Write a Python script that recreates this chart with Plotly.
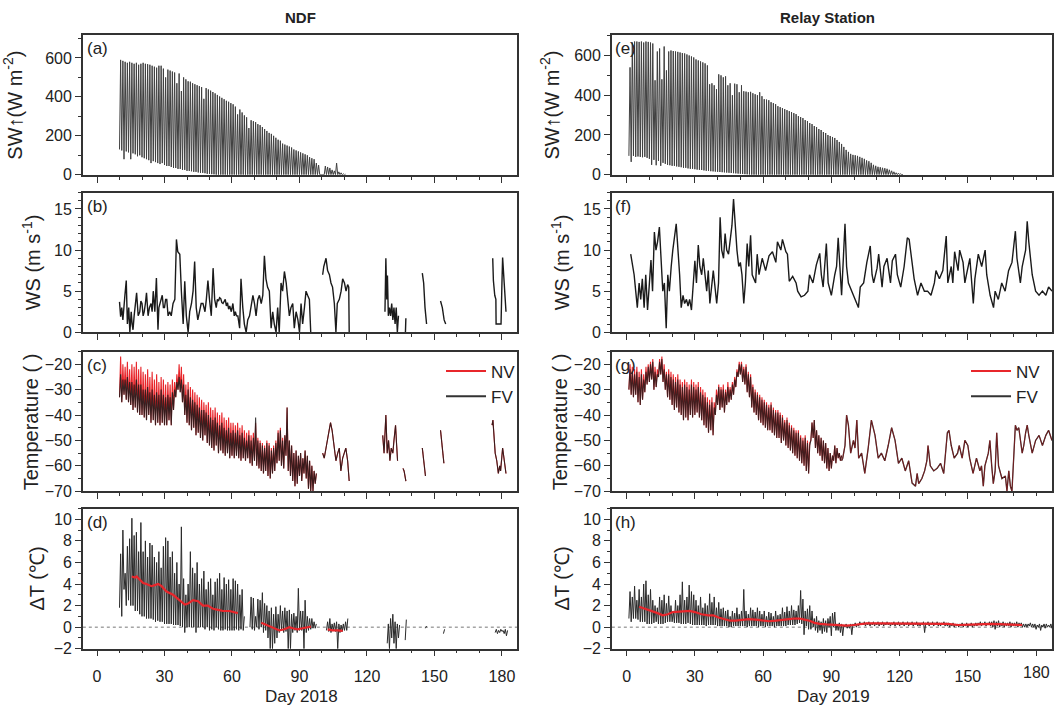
import plotly.graph_objects as go

# ---------------------------------------------------------------- data
# (a) NDF upward shortwave: daily max / min, days 10..110
ndf_sw_day0 = 10
ndf_sw_max = [590, 585, 580, 575, 580, 575, 570, 575, 565, 570,
              575, 570, 568, 565, 560, 555, 550, 560, 560, 545,
              500, 540, 535, 530, 525, 470, 520, 430, 500, 490,
              480, 478, 470, 465, 460, 455, 450, 390, 445, 438,
              432, 425, 418, 410, 402, 395, 388, 380, 375, 368,
              362, 350, 310, 335, 320, 305, 295, 240, 280, 275,
              270, 260, 255, 245, 235, 225, 215, 210, 200, 190,
              180, 175, 160, 155, 150, 145, 140, 130, 125, 120,
              115, 110, 105, 100, 90, 85, 80, 60, 50, 0,
              0, 45, 40, 35, 25, 20, 60, 15, 10, 5, 3]
ndf_sw_min = [130, 125, 80, 120, 115, 80, 110, 105, 95, 100,
              90, 85, 80, 75, 60, 70, 65, 60, 55, 60,
              50, 45, 45, 40, 35, 35, 30, 30, 25, 25,
              20, 20, 18, 15, 15, 12, 10, 10, 8, 5,
              5, 3, 2, 0, 0, 0, 0, 0, 0, 0,
              0, 0, 0, 0, 0, 0, 0, 0, 0, 0,
              0, 0, 0, 0, 0, 0, 0, 0, 0, 0,
              0, 0, 0, 0, 0, 0, 0, 0, 0, 0,
              0, 0, 0, 0, 0, 0, 0, 0, 0, 0,
              0, 0, 0, 0, 0, 0, 0, 0, 0, 0, 0]

# (e) Relay Station upward shortwave: daily max / min, days 1..121
relay_sw_day0 = 1
relay_sw_max = [540, 665, 670, 670, 668, 670, 665, 670, 668, 665,
                660, 475, 620, 635, 480, 645, 525, 620, 625, 622,
                620, 618, 615, 612, 610, 605, 600, 595, 590, 580,
                575, 570, 565, 560, 550, 455, 460, 450, 430, 505,
                500, 490, 495, 450, 460, 400, 458, 455, 415, 450,
                420, 418, 415, 417, 410, 405, 400, 415, 395, 380,
                378, 375, 365, 360, 355, 345, 340, 335, 330, 325,
                320, 315, 310, 305, 295, 290, 285, 275, 270, 260,
                255, 245, 240, 230, 225, 215, 210, 200, 195, 190,
                185, 175, 165, 155, 140, 125, 115, 105, 100, 98,
                95, 90, 85, 80, 72, 68, 60, 50, 45, 40,
                38, 35, 33, 30, 25, 20, 15, 10, 8, 5, 2]
relay_sw_min = [95, 65, 95, 90, 92, 90, 88, 90, 85, 80,
                50, 75, 48, 70, 45, 60, 55, 50, 48, 45,
                45, 42, 40, 38, 35, 35, 32, 30, 30, 28,
                26, 25, 24, 22, 20, 20, 18, 17, 16, 15,
                14, 13, 12, 11, 10, 9, 8, 7, 6, 5,
                4, 3, 2, 1, 0, 0, 0, 0, 0, 0,
                0, 0, 0, 0, 0, 0, 0, 0, 0, 0,
                0, 0, 0, 0, 0, 0, 0, 0, 0, 0,
                0, 0, 0, 0, 0, 0, 0, 0, 0, 0,
                0, 0, 0, 0, 0, 0, 0, 0, 0, 0,
                0, 0, 0, 0, 0, 0, 0, 0, 0, 0,
                0, 0, 0, 0, 0, 0, 0, 0, 0, 0, 0]

# (b) NDF wind speed (None = gap)
ndf_ws_day = [10, 10.5, 11, 11.5, 12.4, 13, 13.5, 14.1, 14.6, 15.2, 15.6, 16, 16.5, 17, 17.6, 18.3, 19, 19.5, 20,
              20.5, 21, 21.5, 22, 22.7, 23.3, 24, 24.5, 25, 25.7, 26.4, 27.1, 27.5, 28.1, 29, 29.5, 30, 30.5, 31,
              31.6, 32.3, 33, 33.8, 34.6, 35.3, 35.9, 36.8, 37.5, 38.3, 39, 39.7, 40.5, 41.2, 42, 42.7, 43.4,
              44.1, 44.8, 45.6, 46.3, 47.1, 48, 48.6, 49.3, 50, 50.8, 51.6, 52.3, 53, 53.5, 54, 54.5, 55, 55.5,
              56, 56.5, 57, 57.5, 58, 58.5, 59, 59.7, 60.4, 61, 61.5, 62, 62.6, 63.4, 64, 64.8, 65.5, 66.3, 67,
              67.8, 68.5, 69.3, 70, 70.7, 71.5, 72.2, 73, 73.7, 74.4, 75.1, 75.8, 76.6, 77.4, 78.1, 78.8, 79.6,
              80.3, 81, 81.8, 82.5, 83.3, 84.1, 84.8, 85.5, 86.2, 87, 87.7, 88.5, 89.3, 90, 90.7, 91.4, 92.2,
              92.9, 93.6, 94.4, 95,
              None,
              100.3, 100.8, 101.8, 102.5, 103.3, 104, 104.7, 105.5, 106.2, 106.8, 107.7, 108.5, 109.2, 110,
              110.7, 111.4, 111.9, 112.1,
              None,
              128, 128.4, 128.8, 129.1, 129.5, 130, 130.5, 131, 131.5, 132, 132.5, 133, 133.5, 134,
              None, 137.1, 137.3,
              None, 144.6, 145.2, 145.8, 146.5,
              None, 152.7, 153.5, 154.3, 155,
              None, 175.9, 176.2, 176.8, 177.3, 177.4, 179.6, 180.0, 180.3, 181, 181.8]
ndf_ws = [3.7, 1.9, 3.0, 1.5, 4.5, 6.3, 1.0, 3.0, 0.0, 2.5, 1.0, 0.3, 2.0, 3.0, 4.8, 2.0, 2.5, 3.8, 3.5,
          2.0, 2.5, 3.5, 4.8, 2.0, 3.0, 3.5, 2.5, 5.0, 2.5, 6.6, 0.3, 3.0, 3.5, 4.5, 3.0, 3.0, 4.0, 4.0,
          2.0, 2.5, 2.0, 3.5, 4.0, 11.3, 9.8, 9.5, 5.0, 1.0, 6.2, 2.0, 0.0, 2.5, 3.5, 5.0, 8.6,
          3.0, 1.5, 2.5, 3.5, 3.5, 2.5, 4.0, 6.3, 4.0, 2.0, 7.8, 4.0, 3.0, 4.0, 3.8, 4.2, 4.1, 3.6,
          3.5, 3.8, 4.0, 3.2, 3.6, 2.8, 3.2, 2.5, 3.5, 2.0, 2.5, 2.0, 2.0, 0.5, 6.5, 3.0, 1.0, 0.0, 1.5,
          2.0, 3.0, 4.5, 3.5, 2.0, 4.0, 4.5, 3.5, 4.5, 9.3, 6.5, 5.5, 5.0, 0.5, 2.5, 1.0, 0.0,
          3.0, 0.0, 6.0, 5.0, 7.4, 6.0, 4.0, 2.0, 3.0, 3.5, 0.5, 2.5, 1.5, 0.0, 3.5, 1.0, 3.0,
          5.0, 4.5, 4.0, 0.0,
          None,
          7.0, 8.0, 9.0, 7.5, 7.0, 6.0, 5.5, 3.5, 0.0, 3.5, 4.0, 5.0, 6.5, 6.0,
          5.0, 5.8, 5.5, 0.0,
          None,
          2.5, 9.0, 4.0, 6.9, 2.0, 3.0, 2.0, 3.5, 1.5, 3.0, 1.0, 3.0, 0.0, 2.0,
          None, 0.0, 1.7,
          None, 7.2, 6.0, 3.0, 1.0,
          None, 3.8, 3.0, 1.5, 1.0,
          None, 9.0, 6.3, 4.5, 4.0, 1.0, 1.0, 6.0, 9.1, 6.0, 2.5]

# (f) Relay Station wind speed
relay_ws_day = [1.8, 3.3, 4.0, 4.7, 5.5, 6.2, 6.9, 7.7, 8.4, 9.2, 9.9, 10.7, 11.4, 12.2, 12.9, 13.6, 14.4, 15.1,
                15.9, 16.6, 17.4, 18.1, 18.8, 19.6, 20.3, 21.8, 22.6, 23.3, 24.0, 24.8, 25.5, 26.3, 27.0, 27.7,
                28.5, 30.0, 30.7, 31.5, 32.2, 33.0, 33.7, 35.2, 35.9, 36.6, 38.1, 38.9, 39.6, 40.4, 41.1, 41.8,
                42.6, 43.3, 44.0, 44.8, 45.5, 46.3, 47.0, 47.8, 48.5, 49.3, 50.0, 50.7, 51.5, 52.2, 53.0, 53.7,
                54.5, 55.2, 56.7, 57.4, 58.2, 59.6, 61.1, 62.6, 64.1, 65.6, 66.3, 67.8, 68.5, 70.0, 70.7, 71.5,
                73.0, 74.5, 75.2, 76.7, 78.2, 79.7, 80.4, 81.9, 83.4, 84.9, 85.6, 86.4, 87.8, 88.6, 90.0, 91.5,
                92.3, 93.0, 93.8, 94.5, 96.0, 96.7, 97.5, 99.0, 100.4, 101.9, 102.7, 104.2, 105.6, 107.1, 107.9,
                108.6, 110.1, 110.8, 112.3, 113.1, 114.5, 116.0, 116.8, 118.2, 119.0, 120.5, 122.0, 123.4, 124.2,
                125.7, 126.4, 127.9, 129.4, 130.9, 132.3, 133.8, 135.3, 136.0, 137.5, 139.0, 140.5, 141.2, 142.7,
                143.4, 144.2, 145.7, 146.4, 147.9, 148.7, 149.4, 150.9, 152.4, 153.1, 154.6, 156.1, 157.6, 158.3,
                159.8, 161.3, 162.0, 163.4, 164.9, 166.4, 167.9, 169.4, 170.9, 171.6, 173.1, 173.9, 175.4, 176.1,
                176.8, 178.3, 179.8, 181.3, 182.8, 184.3, 185.5, 187.0]
relay_ws = [9.5, 7.0, 5.0, 3.0, 6.0, 4.0, 6.5, 3.0, 7.0, 2.7, 5.5, 8.8, 5.0, 12.2, 10.0, 11.0, 12.8, 9.0,
            5.0, 6.0, 0.5, 7.0, 5.0, 8.0, 10.0, 13.2, 10.0, 7.0, 3.0, 4.5, 3.5, 4.0, 3.2, 4.0,
            2.7, 8.7, 6.0, 10.6, 8.0, 7.0, 9.0, 5.0, 7.5, 3.5, 7.5, 5.0, 3.5, 6.0, 14.0, 10.0,
            9.0, 12.0, 10.0, 9.5, 11.5, 13.0, 16.2, 12.0, 10.0, 8.0, 8.5, 7.0, 3.5, 6.0, 10.8, 8.0,
            11.8, 7.0, 6.0, 9.5, 7.0, 9.0, 7.5, 9.3, 9.8, 8.5, 11.0, 10.0, 11.3, 9.8, 9.5, 6.2,
            6.8, 6.0, 5.0, 4.3, 4.5, 5.0, 7.0, 6.0, 8.2, 9.6, 7.0, 5.5, 10.8, 6.0, 4.5, 7.0,
            8.0, 11.5, 7.0, 4.5, 13.2, 8.0, 6.0, 5.0, 4.0, 3.0, 5.5, 6.0, 8.5, 10.5, 7.0,
            6.0, 7.8, 9.5, 5.5, 8.0, 9.0, 6.0, 8.7, 9.5, 7.0, 5.5, 8.0, 11.5, 11.3,
            8.0, 6.5, 4.5, 6.0, 5.0, 5.0, 4.5, 6.0, 7.5, 6.5, 7.5, 11.7, 6.0, 8.0,
            6.0, 9.8, 7.5, 10.0, 8.5, 6.0, 7.0, 9.0, 3.5, 6.5, 9.5, 8.0, 10.0, 7.0,
            4.5, 3.0, 5.0, 4.0, 6.0, 5.0, 7.5, 8.5, 12.3, 9.0, 6.0, 8.0, 10.0, 13.5,
            11.0, 7.0, 5.0, 4.5, 5.0, 4.5, 5.5, 5.0]

# (c) NDF air temperature, days 10..97: NV daily max, FV daily max, daily min
ndf_t_day0 = 10
ndf_nv_max = [-17, -20, -21, -19, -22, -20, -21, -19, -22, -21,
              -23, -24, -22, -25, -23, -26, -24, -27, -25, -26,
              -28, -27, -28, -26, -27, -24, -20, -21, -24, -28,
              -27, -29, -30, -31, -32, -33, -34, -35, -36, -35,
              -37, -38, -37, -39, -40, -39, -41, -42, -41, -43,
              -43, -44, -43, -45, -44, -46, -47, -46, -48, -47,
              -43, -49, -50, -51, -52, -50, -51, -53, -52, -50,
              -46, -45, -49, -48, -37, -50, -52, -55, -54, -56,
              -55, -57, -54, -56, -58, -60, -62, -63]
ndf_fv_max = [-24, -26, -26, -25, -27, -27, -28, -26, -28, -28,
              -30, -30, -29, -31, -30, -32, -31, -32, -30, -32,
              -33, -32, -33, -31, -30, -27, -25, -26, -28, -32,
              -30, -33, -34, -35, -36, -37, -38, -38, -39, -40,
              -41, -42, -41, -43, -44, -43, -45, -46, -45, -47,
              -46, -47, -46, -48, -47, -49, -50, -48, -50, -49,
              -41, -50, -51, -52, -53, -51, -52, -54, -53, -51,
              -47, -46, -50, -48, -37, -50, -52, -55, -54, -56,
              -55, -57, -54, -56, -58, -60, -62, -63]
ndf_t_min = [-33, -35, -32, -34, -35, -36, -38, -37, -39, -40,
             -40, -41, -42, -40, -43, -42, -44, -43, -44, -43,
             -44, -44, -42, -44, -38, -33, -30, -31, -35, -40,
             -43, -44, -46, -45, -48, -47, -49, -50, -48, -51,
             -52, -53, -54, -52, -55, -54, -55, -56, -55, -57,
             -56, -57, -56, -57, -58, -57, -58, -57, -59, -60,
             -58, -60, -61, -62, -63, -62, -64, -65, -63, -62,
             -59, -58, -60, -61, -56, -62, -64, -66, -68, -67,
             -64, -66, -63, -65, -69, -70, -70, -67]
# later NDF fragments (NV and FV nearly identical)
ndf_t2_day = [100.3, 101, 102, 103, 103.8, 104.5, 105.3, 106.2, 107, 107.7, 108.4, 109.2, 109.9, 110.6, 111.4, 112.1,
              None, 127, 127.6, 128.4, 129, 129.6, 130.2, 130.8, 131.5, 132, 132.7, 133.2, 133.6,
              None, 136, 136.5, 137.3,
              None, 144.6, 145.3, 146,
              None, 152.7, 153.3, 154.2,
              None, 175.6, 176, 176.3, 177, 177.7, 178.4, 179, 179.4, 180.3, 181, 181.8]
ndf_t2 = [-55, -57, -52, -47, -43, -46, -52, -58, -55, -53, -62, -57, -55, -53, -58, -66,
          None, -48, -55, -40, -55, -50, -58, -53, -55, -50, -44, -52, -58,
          None, -61, -62, -66,
          None, -53, -58, -64,
          None, -46, -52, -59,
          None, -44, -42, -46, -55, -58, -63, -60, -62, -53, -57, -63]

# (g) Relay Station air temperature, days 1..94
relay_t_day0 = 1
relay_nv_max = [-20, -21, -22, -21, -23, -22, -24, -21, -20, -19,
                -18, -21, -22, -18, -17, -20, -23, -22, -23, -24,
                -25, -24, -26, -27, -26, -27, -28, -26, -27, -28,
                -27, -29, -30, -31, -33, -34, -33, -35, -30, -28,
                -29, -28, -30, -27, -29, -27, -25, -22, -19, -19,
                -21, -20, -23, -24, -28, -30, -31, -32, -33, -34,
                -35, -36, -35, -37, -38, -38, -39, -40, -42, -41,
                -43, -44, -45, -46, -46, -48, -49, -48, -50, -51,
                -43, -42, -46, -48, -49, -50, -51, -53, -55, -56,
                -52, -53, -55, -56]
relay_fv_max = [-22, -23, -24, -23, -25, -24, -26, -23, -21, -20,
                -19, -23, -24, -19, -18, -22, -24, -24, -25, -26,
                -27, -26, -28, -29, -28, -29, -30, -28, -29, -30,
                -29, -31, -32, -33, -35, -36, -35, -37, -32, -29,
                -30, -30, -31, -29, -30, -28, -26, -23, -20, -20,
                -22, -21, -24, -25, -29, -31, -32, -33, -34, -35,
                -36, -37, -36, -38, -39, -39, -40, -41, -43, -42,
                -44, -45, -46, -47, -47, -49, -50, -49, -51, -52,
                -43, -42, -46, -48, -49, -50, -51, -53, -55, -56,
                -52, -53, -55, -56]
relay_t_min = [-30, -32, -33, -32, -35, -36, -34, -31, -28, -27,
               -26, -30, -29, -25, -24, -27, -30, -33, -34, -36,
               -38, -37, -39, -40, -42, -41, -42, -40, -41, -40,
               -39, -41, -42, -44, -45, -47, -46, -48, -40, -36,
               -38, -37, -39, -36, -35, -34, -32, -29, -25, -24,
               -27, -28, -31, -33, -37, -39, -40, -42, -43, -44,
               -45, -46, -46, -47, -48, -49, -49, -51, -50, -52,
               -53, -54, -55, -56, -57, -58, -59, -60, -62, -63,
               -50, -49, -53, -55, -56, -58, -59, -61, -62, -61,
               -58, -59, -57, -58]
relay_t2_day = [94.5, 95, 96, 96.7, 97.5, 98.5, 99.7, 100.4, 101.2, 102, 103.3, 104.7, 106.2, 107.6, 109.2,
                110.6, 112, 113.5, 115, 116.5, 118, 119.5, 121, 122.5, 124, 125.5, 127, 127.7, 128.4, 129.8,
                131, 132, 132.5, 133.5, 135, 136.5, 138, 139.4, 141, 141.7, 142.7, 144, 145.5, 146.2, 147.5,
                148.7, 150, 150.8, 152.3, 153.8, 155.3, 156, 156.8, 157.5, 159, 159.7, 160.5, 161.2, 162,
                162.7, 163.5, 165, 166.5, 167.2, 168, 168.7, 169.4, 170.2, 170.9, 171.6, 172.4, 173.9, 174.6,
                175.4, 176.1, 176.8, 178.3, 179.8, 181.3, 182.8, 184.3, 185.5, 187]
relay_t2 = [-58, -57, -52, -40, -44, -55, -50, -53, -42, -57, -55, -63, -53, -42, -48,
            -57, -55, -58, -52, -45, -50, -59, -57, -62, -58, -66.8, -68, -63, -67, -65,
            -62, -58, -52, -60, -62, -61, -59, -63, -47, -46, -52, -57, -55, -52, -57,
            -50, -52, -57, -63, -57, -62, -60, -68, -60, -55, -50, -60, -67, -62,
            -47, -60, -65, -64, -70, -62, -68, -70, -55, -44, -46, -45, -55, -52,
            -47, -44, -48, -55, -50, -48, -52, -48, -46, -50]

# (d) NDF temperature difference NV-FV: daily max / min
ndf_dt_day = (list(range(10, 66)) + list(range(68, 98)) + list(range(102, 112))
              + list(range(129, 135)) + [137, 146, 154] + list(range(177, 183)))
ndf_dt_max = [6.8, 9.0, 5.0, 7.5, 8.2, 10.1, 8.5, 8.8, 7.0, 9.7,
              7.0, 8.0, 6.5, 7.8, 7.6, 6.5, 6.0, 7.0, 5.5, 7.5,
              8.3, 8.0, 6.5, 7.0, 5.0, 6.0, 4.0, 9.3, 4.5, 3.0,
              4.0, 7.0, 5.5, 5.0, 6.0, 4.0, 4.5, 5.2, 3.5, 4.2,
              4.5, 3.0, 4.2, 4.5, 5.0, 3.5, 4.6, 4.0, 4.4, 3.5,
              4.5, 4.3, 4.0, 3.0, 3.5, 1.0,
              2.8, 2.7, 1.0, 2.6, 2.5, 3.2, 2.2, 2.0, 1.5, 1.8,
              1.2, 1.9, 1.2, 2.0, 1.5, 1.8, 1.5, 1.6, 1.2, 1.3,
              1.0, 3.6, 1.5, 1.5, 2.5, 1.0, 0.8, 0.8, 0.5, 0.3,
              0.5, 0.8, 0.3, 0.4, 0.5, 0.3, 0.2, 0.3, 0.5, 0.8,
              0.3, 0.8, 1.2, 0.5, 0.3, 0.2,
              0.7, 0.1, -0.2,
              -0.2, -0.3, -0.2, -0.3, -0.2, -0.3]
ndf_dt_min = [1.8, 1.0, 3.5, 2.0, 2.5, 2.0, 2.0, 1.5, 1.5, 1.2,
              1.0, 1.0, 0.8, 0.8, 0.8, 0.7, 0.5, 0.6, 0.5, 0.5,
              0.3, 0.3, 0.3, 0.3, 0.2, 0.2, 0.2, 0.1, 0.0, -0.5,
              0.0, 0.0, 0.0, 0.0, -0.5, 0.0, 0.0, 0.0, -0.2, 0.0,
              -0.3, -0.2, -0.3, 0.0, -0.2, -0.3, -0.3, -0.2, -0.3, -0.3,
              -0.3, -0.3, -0.2, -0.3, -0.2, -0.3,
              0.0, -0.2, -0.3, 0.0, -0.2, 0.0, -0.5, -0.3, -1.0, -2.0,
              -2.0, -1.5, -1.0, -0.5, -0.3, -0.5, -0.4, -2.0, -2.0, -0.5,
              -0.3, -0.5, -0.3, -0.3, -2.0, -0.5, -0.3, -0.2, -0.1, -0.1,
              -0.3, -0.4, -0.5, -0.3, -0.4, -2.0, -0.5, -0.4, -0.3, -0.3,
              -1.5, -2.0, -1.0, -1.5, -2.0, -1.0,
              -1.2, -0.1, -0.6,
              -0.5, -0.6, -0.5, -0.4, -0.6, -0.8]
ndf_dt_mean_day = [15.4, 16.9, 17.6, 19.1, 20.5, 22, 24.2, 25.7, 27.2, 28.7, 30.9, 33.8, 36.8, 39, 40.5, 42.7,
                   44.9, 47.1, 49.3, 51.6, 53.8, 56, 58.9, 60.4, 62.6,
                   None, 73, 75.2, 77.4, 79.6, 81.1, 83.3, 85.5, 87, 89.2, 91.4, 93.6, 95.1,
                   None, 102.5, 104.7, 106.9, 109.2]
ndf_dt_mean = [4.7, 4.6, 4.7, 4.4, 4.1, 4.0, 3.8, 3.9, 4.0, 3.8, 3.3, 3.0, 2.5, 2.1, 2.2, 2.5,
               2.4, 2.0, 2.0, 1.7, 1.6, 1.5, 1.5, 1.4, 1.3,
               None, 0.4, 0.2, 0.0, -0.2, -0.3, -0.2, 0.0, -0.1, -0.2, -0.1, 0.0, 0.05,
               None, -0.2, -0.3, -0.3, -0.35]

# (h) Relay Station temperature difference: daily max / min, days 1..187
relay_dt_day0 = 1
relay_dt_max = [3.3, 2.8, 3.8, 2.5, 3.5, 2.8, 4.0, 4.3, 3.0, 3.5,
                2.5, 2.0, 1.8, 2.8, 2.5, 3.0, 2.2, 2.9, 2.0, 1.5,
                2.5, 2.0, 3.0, 4.2, 2.5, 2.8, 3.9, 3.3, 3.0, 2.5,
                2.0, 2.8, 1.8, 2.2, 2.0, 3.1, 2.3, 2.8, 1.8, 2.3,
                1.7, 1.8, 1.5, 1.6, 1.0, 1.5, 1.3, 1.8, 1.2, 1.5,
                3.5, 1.5, 1.2, 1.8, 1.6, 1.4, 1.8, 1.5, 1.2, 1.5,
                1.0, 1.4, 1.3, 1.0, 1.5, 1.1, 1.2, 1.8, 1.4, 1.9,
                1.5, 2.0, 1.6, 1.5, 2.0, 3.4, 2.6, 1.5, 1.7, 2.0,
                1.5, 0.8, 1.0, 0.6, 0.5, 0.8, 0.6, 0.8, 1.0, 1.3,
                1.4, 0.3, 0.4, 0.3, 0.2, 0.3, 0.2, 0.3, 0.3, 0.4,
                0.3, 0.5, 0.4, 0.5, 0.4, 0.5, 0.4, 0.5, 0.4, 0.5,
                0.4, 0.5, 0.4, 0.5, 0.4, 0.4, 0.5, 0.4, 0.5, 0.4,
                0.5, 0.4, 0.5, 0.4, 0.5, 0.4, 0.5, 0.4, 0.4, 0.5,
                0.4, 0.5, 0.4, 0.5, 0.4, 0.5, 0.4, 0.4, 0.5, 0.4,
                0.4, 0.3, 0.4, 0.3, 0.3, 0.3, 0.4, 0.3, 0.4, 0.3,
                0.4, 0.3, 0.4, 0.4, 0.5, 0.4, 0.5, 0.4, 0.5, 0.5,
                0.6, 0.5, 0.6, 0.4, 0.5, 0.4, 0.4, 0.5, 0.4, 0.4,
                0.5, 0.4, 0.4, 0.3, 0.3, 0.3, 0.4, 0.3, 0.3, 0.2,
                0.3, 0.2, 0.3, 0.3, 0.2, 0.3, 0.3]
relay_dt_min = [0.8, 0.5, 0.8, 0.8, 0.7, 0.5, 0.5, 0.5, 0.3, 0.3,
                0.3, 0.4, 0.5, 0.3, 0.3, 0.3, 0.4, 0.5, 0.5, 0.5,
                0.4, 0.4, 0.4, 0.3, 0.3, 0.3, 0.4, 0.3, 0.2, 0.2,
                0.2, 0.2, 0.2, 0.2, 0.1, 0.2, 0.2, 0.2, 0.2, 0.1,
                0.1, 0.1, 0.1, 0.1, 0.0, 0.0, 0.1, 0.1, 0.1, 0.1,
                0.1, 0.1, 0.0, 0.1, 0.1, 0.1, 0.1, 0.0, 0.1, 0.1,
                0.0, 0.1, 0.1, 0.1, 0.0, 0.1, 0.1, 0.1, 0.1, 0.1,
                0.2, 0.2, 0.2, 0.2, 0.3, 0.4, 0.3, -0.7, 0.1, -0.2,
                -0.2, 0.0, -0.3, -0.5, -0.3, -0.6, -0.4, -0.5, 0.0, -0.8,
                0.0, -0.3, -0.3, -0.5, -0.8, 0.0, -0.1, -0.1, -0.7, 0.1,
                0.0, 0.1, 0.2, 0.2, 0.1, 0.2, 0.1, 0.2, 0.1, 0.2,
                0.1, 0.2, 0.1, 0.2, 0.2, 0.1, 0.2, 0.1, 0.2, 0.1,
                0.2, 0.1, 0.2, 0.1, 0.2, 0.1, 0.2, 0.1, 0.1, 0.2,
                -0.5, 0.2, 0.1, 0.2, 0.1, 0.2, 0.1, 0.1, 0.2, 0.1,
                0.1, 0.0, 0.1, 0.0, 0.1, 0.0, 0.1, 0.0, 0.1, 0.0,
                0.1, 0.0, 0.1, 0.1, 0.2, 0.1, 0.2, 0.1, 0.2, 0.1,
                0.0, -0.2, 0.1, 0.0, 0.1, 0.0, 0.1, 0.1, 0.0, 0.1,
                0.1, 0.0, 0.1, 0.0, 0.0, 0.0, 0.1, 0.0, 0.0, -0.2,
                0.0, -0.3, 0.0, -0.1, 0.0, 0.0, -0.1]
relay_dt_mean_day = [5.5, 8.5, 11.4, 13.6, 15.9, 18.1, 20.3, 23.3, 25.5, 27.7, 30, 32.9, 35.9, 38.1, 40.4, 43.3,
                     45.5, 47.8, 50.7, 53.7, 56.7, 59.6, 62.6, 65.6, 68.5, 71.5, 73.7, 76, 78.2, 80.4, 82.6,
                     84.9, 87.8, 90.8, 93.8, 96.7, 99.7, 102.7, 105.6, 110.1, 116, 123.4, 130.9, 136.8, 141.2,
                     145.7, 150.1, 154.6, 160.5, 165, 169.4, 173.9]
relay_dt_mean = [1.9, 1.7, 1.5, 1.3, 1.1, 1.2, 1.4, 1.45, 1.5, 1.5, 1.4, 1.2, 1.1, 1.1, 0.9, 0.7,
                 0.6, 0.6, 0.65, 0.75, 0.7, 0.6, 0.55, 0.6, 0.7, 0.75, 0.8, 0.8, 0.7, 0.6, 0.4,
                 0.3, 0.25, 0.2, 0.15, 0.15, 0.2, 0.3, 0.35, 0.35, 0.35, 0.35, 0.35, 0.35, 0.3,
                 0.2, 0.2, 0.25, 0.3, 0.25, 0.25, 0.2]

# day-axis tick labels
day_ticks = [0, 30, 60, 90, 120, 150, 180]
day_tick_text = ["0", "30", "60", "90", "120", "150", "180"]

# ---------------------------------------------------------------- helpers
def diurnal(days, lo, hi):
    """Zig-zag through each day's minimum (night) and maximum (midday)."""
    xs, ys, prev = [], [], None
    for d, l, h in zip(days, lo, hi):
        if prev is not None and d - prev > 1:
            xs.append(None)
            ys.append(None)
        xs += [d, d + 0.5]
        ys += [l, h]
        prev = d
    return xs, ys


def day_list(day0, values):
    return [day0 + i for i in range(len(values))]


FONT = "Liberation Sans, Arial, Helvetica, sans-serif"
INK = "#222222"
LINE = "#333333"
RED = "#e8262b"
W, H = 1054, 715

fig = go.Figure()


def add(x, y, n, color, width, opacity=1.0):
    fig.add_trace(go.Scatter(x=x, y=y, mode="lines", xaxis="x" + ("" if n == 1 else str(n)),
                             yaxis="y" + ("" if n == 1 else str(n)), showlegend=False,
                             line=dict(color=color, width=width), opacity=opacity,
                             hoverinfo="skip", connectgaps=False))


# (a), (e) shortwave
x, y = diurnal(day_list(ndf_sw_day0, ndf_sw_max), ndf_sw_min, ndf_sw_max)
add(x, y, 1, "#404040", 1.0)
x, y = diurnal(day_list(relay_sw_day0, relay_sw_max), relay_sw_min, relay_sw_max)
add(x, y, 5, "#404040", 1.0)

# (b), (f) wind speed
add(ndf_ws_day, ndf_ws, 2, "#1a1a1a", 1.4)
add(relay_ws_day, relay_ws, 6, "#1a1a1a", 1.4)

# (c) temperature NDF
d = day_list(ndf_t_day0, ndf_nv_max)
x, y = diurnal(d, ndf_t_min, ndf_nv_max)
add(x + [None] + ndf_t2_day, y + [None] + ndf_t2, 3, RED, 1.1)
x, y = diurnal(d, ndf_t_min, ndf_fv_max)
add(x + [None] + ndf_t2_day, y + [None] + ndf_t2, 3, "#1a1a1a", 1.1, 0.85)

# (g) temperature Relay
d = day_list(relay_t_day0, relay_nv_max)
x, y = diurnal(d, relay_t_min, relay_nv_max)
add(x, y, 7, RED, 1.1)
x, y = diurnal(d, relay_t_min, relay_fv_max)
add(x, y, 7, "#1a1a1a", 1.1, 0.8)
add(relay_t2_day, relay_t2, 7, "#1a1a1a", 1.3)
add(relay_t2_day, relay_t2, 7, RED, 1.0, 0.45)

# (d), (h) temperature difference
x, y = diurnal(ndf_dt_day, ndf_dt_min, ndf_dt_max)
add(x, y, 4, "#2a2a2a", 1.0)
add(ndf_dt_mean_day, ndf_dt_mean, 4, RED, 2.2)
x, y = diurnal(day_list(relay_dt_day0, relay_dt_max), relay_dt_min, relay_dt_max)
add(x, y, 8, "#2a2a2a", 1.0)
add(relay_dt_mean_day, relay_dt_mean, 8, RED, 2.2)

# legend entries
for n, leg in ((3, "legend"), (7, "legend2")):
    for name, col in (("NV", RED), ("FV", "#333333")):
        fig.add_trace(go.Scatter(x=[None], y=[None], mode="lines", name=name, legend=leg,
                                 xaxis="x" + str(n), yaxis="y" + str(n),
                                 line=dict(color=col, width=2)))

# ---------------------------------------------------------------- layout
xdom_l = [83 / W, 518 / W]
xdom_r = [613 / W, 1.0]
rows_px = [(35, 177), (195, 336.5), (356, 497.5), (515, 657)]
ydoms = [[1 - b / H, 1 - t / H] for t, b in rows_px]
yranges = [[0, 720], [0, 17], [-70, -15], [-2, 11]]
yranges_r = [[0, 705], [0, 17], [-70, -15], [-2, 11]]
ydtick = [200, 5, 10, 2]
yminor = [100, 1, 5, 1]
XR_R = [-6.5, 187]
TICKLABEL_Y = 681   # centre line of the day labels, px from top

tickfont = dict(family=FONT, size=16, color=INK)


def xaxis(dom, rng, labels, anchor, texts):
    return dict(domain=dom, range=rng, anchor=anchor, tickmode="array", tickvals=day_ticks,
                ticktext=texts, ticks="outside", ticklen=6, tickwidth=1.2, tickcolor=LINE,
                minor=dict(dtick=10, tick0=0, ticks="outside", ticklen=3, tickwidth=1, tickcolor=LINE),
                showline=True, linecolor=LINE, linewidth=1.5, mirror=True, showgrid=False,
                zeroline=False, showticklabels=labels, tickfont=tickfont, ticklabelstandoff=6,
                ticklabeloverflow="allow")


def yaxis(dom, rng, dt, mn, anchor):
    return dict(domain=dom, range=rng, anchor=anchor, dtick=dt, tick0=0, ticks="outside",
                ticklen=6, tickwidth=1.2, tickcolor=LINE,
                minor=dict(dtick=mn, ticks="outside", ticklen=3, tickwidth=1, tickcolor=LINE),
                showline=True, linecolor=LINE, linewidth=1.5, mirror=True, showgrid=False,
                zeroline=False, tickfont=tickfont)


# the right column runs into the window edge: its last day label is placed as an annotation
right_tick_text = day_tick_text[:-1] + [""]

layout = dict(width=W, height=H, margin=dict(l=0, r=0, t=0, b=0), paper_bgcolor="white",
              plot_bgcolor="white", font=dict(family=FONT, color=INK), hovermode=False)
for i in range(4):
    n_l, n_r = i + 1, i + 5
    kx_l = "xaxis" if n_l == 1 else "xaxis%d" % n_l
    ky_l = "yaxis" if n_l == 1 else "yaxis%d" % n_l
    layout[kx_l] = xaxis(xdom_l, [-6.3, 186.7], i == 3, "y" if n_l == 1 else "y%d" % n_l, day_tick_text)
    layout[ky_l] = yaxis(ydoms[i], yranges[i], ydtick[i], yminor[i], "x" if n_l == 1 else "x%d" % n_l)
    layout["xaxis%d" % n_r] = xaxis(xdom_r, XR_R, i == 3, "y%d" % n_r, right_tick_text)
    layout["yaxis%d" % n_r] = yaxis(ydoms[i], yranges_r[i], ydtick[i], yminor[i], "x%d" % n_r)

legend_common = dict(xanchor="right", yanchor="top", bgcolor="rgba(0,0,0,0)", borderwidth=0,
                     font=dict(family=FONT, size=17, color=INK), tracegroupgap=0, itemwidth=40)
layout["legend"] = dict(x=522 / W, y=1 - 358 / H, **legend_common)
layout["legend2"] = dict(x=1048 / W, y=1 - 358 / H, **legend_common)

fig.update_layout(**layout)

# zero reference lines in (d) and (h)
for n in (4, 8):
    fig.add_shape(type="line", xref="x%d domain" % n, yref="y%d" % n, x0=0, x1=1, y0=0, y1=0,
                  line=dict(color="#777777", width=1, dash="dot"), layer="below")

ann = []
# panel letters
for i, lab in enumerate(["(a)", "(b)", "(c)", "(d)"]):
    ann.append(dict(text=lab, xref="x%s domain" % ("" if i == 0 else i + 1),
                    yref="y%s domain" % ("" if i == 0 else i + 1),
                    x=0.006, y=0.985, xanchor="left", yanchor="top", showarrow=False,
                    font=dict(family=FONT, size=17, color=INK)))
for i, lab in enumerate(["(e)", "(f)", "(g)", "(h)"]):
    ann.append(dict(text=lab, xref="x%d domain" % (i + 5), yref="y%d domain" % (i + 5),
                    x=0.002, y=0.985, xanchor="left", yanchor="top", showarrow=False,
                    font=dict(family=FONT, size=17, color=INK)))
# y-axis titles
ytitles = ["SW↑(W m<sup>-2</sup>)", "WS (m s<sup>-1</sup>)", "Temperature ( )", "ΔT (℃)"]
xl = [13, 31, 31, 37]
xr = [551, 561, 561, 563]
for i, t in enumerate(ytitles):
    yc = 1 - (rows_px[i][0] + rows_px[i][1]) / 2 / H
    for xp in (xl[i], xr[i]):
        ann.append(dict(text=t, xref="paper", yref="paper", x=xp / W, y=yc, xanchor="center",
                        yanchor="middle", textangle=-90, showarrow=False,
                        font=dict(family=FONT, size=20, color=INK)))
# last day label of the right column, at its tick
ann.append(dict(text=day_tick_text[-1], xref="x8", yref="paper", x=day_ticks[-1], y=1 - TICKLABEL_Y / H,
                xanchor="center", yanchor="middle", showarrow=False, font=tickfont))
# column titles and x titles
for text, xp, yp, size in (("<b>NDF</b>", 301, 18, 15), ("<b>Relay Station</b>", 829, 18, 15),
                           ("Day 2018", 302, 705, 17), ("Day 2019", 835, 705, 17)):
    ann.append(dict(text=text, xref="paper", yref="paper", x=xp / W, y=1 - yp / H,
                    xanchor="center", yanchor="middle", showarrow=False,
                    font=dict(family=FONT, size=size, color=INK)))
fig.update_layout(annotations=ann)

# pin the figure to the window origin (no default page margin, no page scrolling)
fig.write_html("out.html", config={"displayModeBar": False},
               post_script=("document.documentElement.style.margin='0';"
                            "document.body.style.margin='0';"
                            "document.documentElement.style.overflow='hidden';"
                            "document.body.style.overflow='hidden';"
                            "var gd=document.getElementById('{plot_id}');"
                            "gd.style.position='fixed';gd.style.left='0px';gd.style.top='0px';"))
